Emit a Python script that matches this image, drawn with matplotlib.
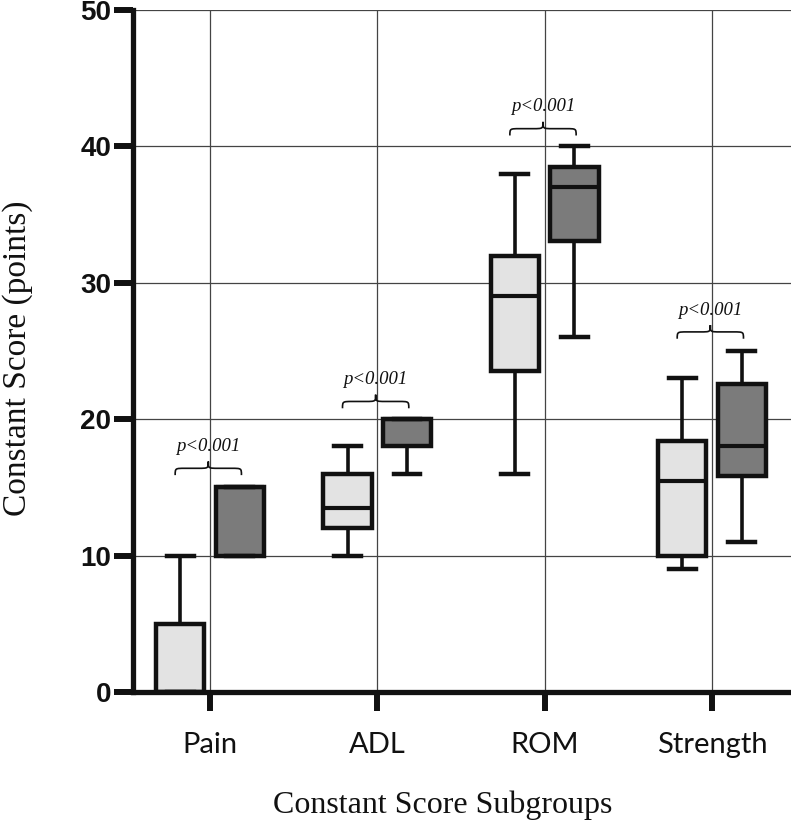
import matplotlib
matplotlib.use("Agg")
import matplotlib.pyplot as plt
from matplotlib.path import Path
from matplotlib.patches import PathPatch
import numpy as np

# ---------------- data ----------------
categories = ["Pain", "ADL", "ROM", "Strength"]

# group 1 (light boxes)
g1_whislo = [0, 10, 16, 9]
g1_q1     = [0, 12, 23.5, 10]
g1_med    = [0, 13.5, 29, 15.5]
g1_q3     = [5, 16, 32, 18.4]
g1_whishi = [10, 18, 38, 23]

# group 2 (dark boxes)
g2_whislo = [10, 16, 26, 11]
g2_q1     = [10, 18, 33.1, 15.8]
g2_med    = [15, 20, 37, 18]
g2_q3     = [15, 20, 38.5, 22.6]
g2_whishi = [15, 20, 40, 25]

p_labels = ["p<0.001", "p<0.001", "p<0.001", "p<0.001"]
brace_y  = [16.4, 21.3, 41.3, 26.4]

y_ticks = [0, 10, 20, 30, 40, 50]

# ---------------- figure ----------------
W, H = 791, 827
fig = plt.figure(figsize=(W / 100, H / 100), dpi=100)
ax = fig.add_axes([133 / W, 1 - 692 / H, (W - 133) / W, (692 - 10) / H])

pos = np.arange(1, len(categories) + 1)
off = 0.178
bw = 0.29
capw = 0.16

def make_stats(lo, q1, med, q3, hi):
    return [dict(whislo=a, q1=b, med=c, q3=d, whishi=e, fliers=[])
            for a, b, c, d, e in zip(lo, q1, med, q3, hi)]

common = dict(widths=bw, capwidths=capw, showfliers=False, patch_artist=True,
              manage_ticks=False, zorder=3,
              whiskerprops=dict(color="#111111", linewidth=2.6),
              capprops=dict(color="#111111", linewidth=3.2),
              medianprops=dict(color="#111111", linewidth=3.0))

b1 = ax.bxp(make_stats(g1_whislo, g1_q1, g1_med, g1_q3, g1_whishi),
            positions=pos - off,
            boxprops=dict(facecolor="#e3e3e3", edgecolor="#111111", linewidth=3.2),
            **common)
b2 = ax.bxp(make_stats(g2_whislo, g2_q1, g2_med, g2_q3, g2_whishi),
            positions=pos + off,
            boxprops=dict(facecolor="#7b7b7b", edgecolor="#111111", linewidth=3.2),
            **common)

# braces + p-values
def brace(ax, x0, x1, y, d=0.5, a=0.06):
    xm = (x0 + x1) / 2
    verts = [(x0, y - d), (x0, y), (x0, y), (x0 + a, y),
             (xm - a, y),
             (xm, y), (xm, y), (xm, y + d),
             (xm, y), (xm, y), (xm + a, y),
             (x1 - a, y),
             (x1, y), (x1, y), (x1, y - d)]
    codes = [Path.MOVETO, Path.CURVE4, Path.CURVE4, Path.CURVE4,
             Path.LINETO,
             Path.CURVE4, Path.CURVE4, Path.CURVE4,
             Path.CURVE4, Path.CURVE4, Path.CURVE4,
             Path.LINETO,
             Path.CURVE4, Path.CURVE4, Path.CURVE4]
    ax.add_patch(PathPatch(Path(verts, codes), facecolor="none",
                           edgecolor="#111111", linewidth=1.2, zorder=4))

for p, lab, yb in zip(pos, p_labels, brace_y):
    x0, x1 = p - off - 0.03, p + off + 0.01
    brace(ax, x0, x1, yb)
    ax.text((x0 + x1) / 2, yb + 1.6, lab, ha="center", va="center",
            fontsize=13.5, style="italic", family="Liberation Serif",
            color="#111111", zorder=5)

# axes styling
ax.set_xlim(0.54, 4.472)
ax.set_ylim(0, 50)
ax.set_xticks(pos)
ax.set_xticklabels(categories, family="Lato", fontsize=21, color="#111111")
ax.set_yticks(y_ticks)
ax.set_yticklabels([str(v) for v in y_ticks], family="Liberation Sans",
                   fontweight="bold", fontsize=20, color="#111111")
ax.tick_params(axis="y", length=14, width=4.3, color="#111111", pad=1.5)
ax.tick_params(axis="x", length=14, width=4.3, color="#111111", pad=15)

for s in ["top", "right"]:
    ax.spines[s].set_visible(False)
for s in ["left", "bottom"]:
    ax.spines[s].set_linewidth(3.8)
    ax.spines[s].set_color("#111111")
    ax.spines[s].set_zorder(6)

ax.grid(True, color="#444444", linewidth=0.9, zorder=0)
ax.set_axisbelow(True)

ax.set_xlabel("Constant Score Subgroups", family="Liberation Serif",
              fontsize=23, color="#111111", labelpad=28)
ax.xaxis.set_label_coords(0.47, -0.145)
ax.set_ylabel("Constant Score (points)", family="Liberation Serif",
              fontsize=24, color="#111111", labelpad=30)
ax.yaxis.set_label_coords(-0.152, 0.49)

fig.savefig("out.png", dpi=100)
